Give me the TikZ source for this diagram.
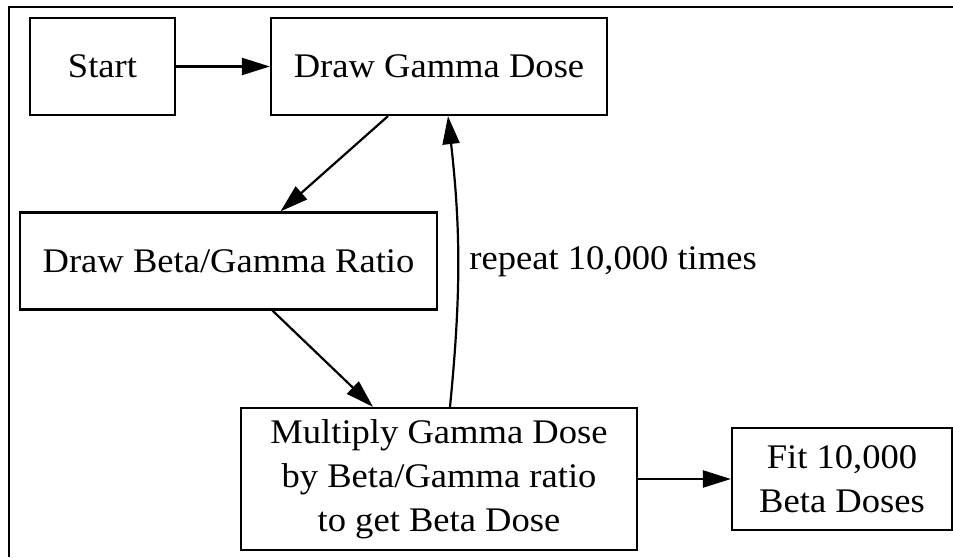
\documentclass[tikz,border=0pt]{standalone}
\usepackage{fontspec}
\setmainfont{Liberation Serif}[FakeStretch=1.06]
\usetikzlibrary{arrows.meta}

\begin{document}
\begin{tikzpicture}[x=1pt, y=1pt,
    every node/.style={font=\fontsize{34.5}{44}\selectfont},
    box/.style={draw, line width=2.2pt, inner sep=0pt, align=center},
    flow/.style={line width=2.2pt, -{Triangle[length=28pt, width=17pt]}}]
  \def\rowh{97pt}

  \useasboundingbox (0,0) rectangle (953,557);
  % frame edges
  \draw[line width=2.5pt] (9,0) -- (9,550) -- (953,550);

  % steps
  \node[box, minimum width=145pt, minimum height=\rowh] (start) at (102.5,490.5) {Start};
  \node[box, minimum width=336pt, minimum height=\rowh] (gamma) at (439,490.5) {Draw Gamma Dose};
  \node[box, minimum width=417pt, minimum height=\rowh] (ratio) at (228.5,296) {Draw Beta/Gamma Ratio};
  \node[box, minimum width=396pt, minimum height=142pt] (mult) at (439,78) {Multiply Gamma Dose\\by Beta/Gamma ratio\\to get Beta Dose};
  \node[box, minimum width=220pt, minimum height=102pt] (fit) at (842,78) {Fit 10,000\\Beta Doses};

  % arrows
  \draw[flow] (start) -- (gamma);
  \draw[flow] ([xshift=-51pt]gamma.south) -- ([xshift=52pt]ratio.north);
  \draw[flow] ([xshift=44pt]ratio.south) -- ([xshift=-66pt]mult.north);
  \draw[flow] (mult) -- (fit);
  \draw[flow] ([xshift=11pt]mult.north) to[bend right=6]
    node[midway, anchor=west, xshift=7pt] (loop) {repeat 10,000 times}
    ([xshift=9pt]gamma.south);
\end{tikzpicture}
\end{document}
